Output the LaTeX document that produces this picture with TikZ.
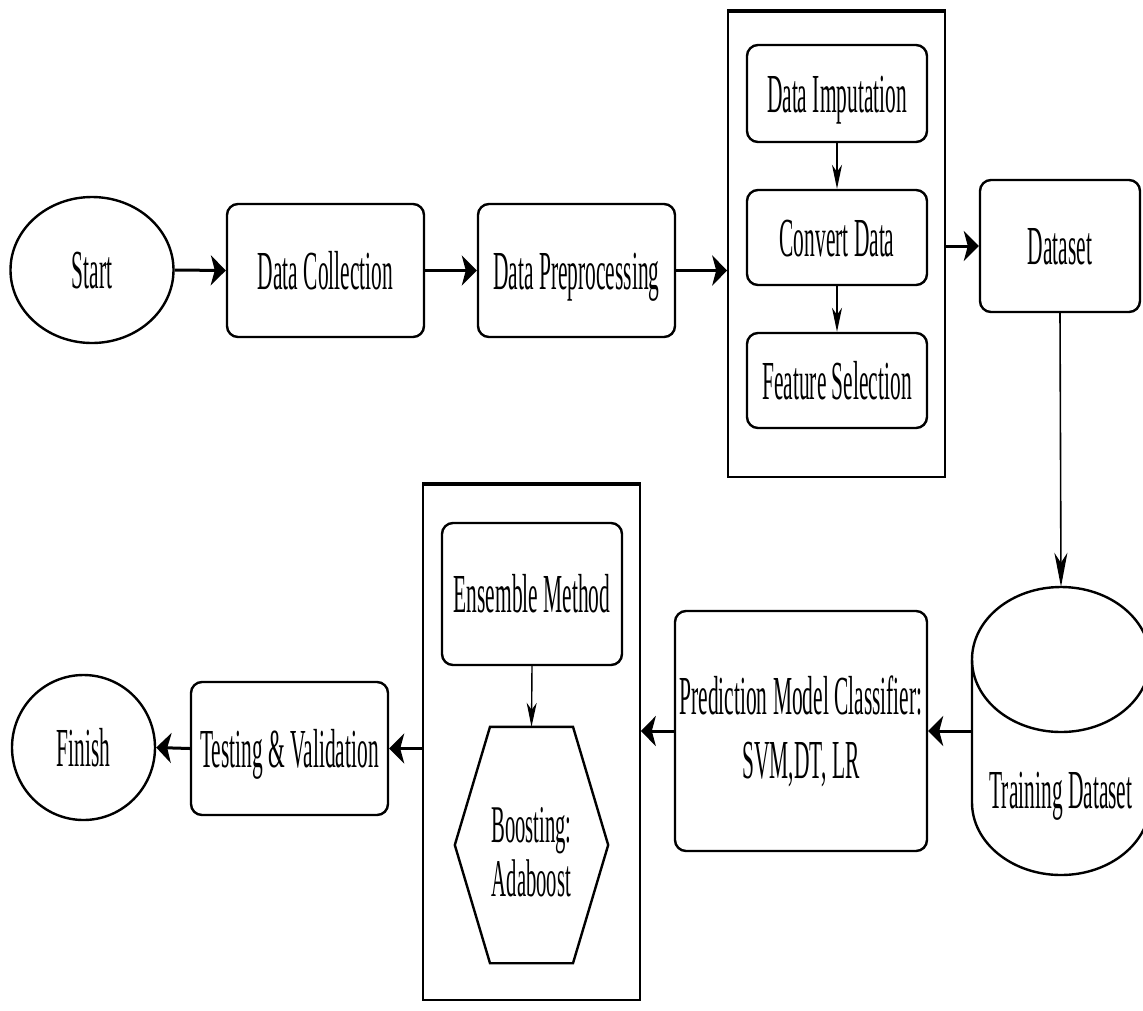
\documentclass[tikz,border=0pt]{standalone}
\usepackage{fontspec}
\newfontfamily\cond[FakeStretch=0.39]{Liberation Serif}
\usetikzlibrary{arrows.meta,shapes.geometric,calc}
\tikzset{
  txt/.style={font=\cond\fontsize{55}{64}\selectfont, inner sep=0pt, text height=37pt, text depth=0pt},
  proc/.style={txt, draw, line width=2.4pt, rounded corners=11pt},
  term/.style={txt, draw, ellipse, line width=2.4pt},
  grp/.style={draw, line width=1.6pt, inner sep=0pt},
  bigarrow/.style={line width=3pt, -{Stealth[length=15pt,width=30pt,inset=4pt]}},
  thinarrow/.style={line width=1.4pt, -{Stealth[length=24pt,width=10pt,inset=7pt]}},
  longarrow/.style={line width=1.6pt, -{Stealth[length=34pt,width=13pt,inset=10pt]}}
}
\begin{document}
\begin{tikzpicture}[x=1pt,y=-1pt]
\useasboundingbox (0,0) rectangle (1143,1010);
% top row
\node[term, minimum width=163pt, minimum height=146pt] (start) at (92,270) {Start};
\node[proc, minimum width=197pt, minimum height=133pt] (dc) at (325.5,270.5) {Data Collection};
\node[proc, minimum width=197pt, minimum height=133pt] (dp) at (576.5,270.5) {Data Preprocessing};
\node[grp, minimum width=217pt, minimum height=465pt] (g1) at (836.5,244.5) {};
\draw[line width=4.5pt] (g1.north west) -- (g1.north east);
\node[proc, minimum width=180pt, minimum height=97pt] (di) at (837,93.5) {Data Imputation};
\node[proc, minimum width=180pt, minimum height=95pt] (cd) at (837,237.5) {Convert Data};
\node[proc, minimum width=180pt, minimum height=95pt] (fs) at (837,380.5) {Feature Selection};
\node[proc, minimum width=160pt, minimum height=132pt] (ds) at (1060,246) {Dataset};
% training dataset cylinder
\node[inner sep=0pt, minimum width=178pt, minimum height=288pt] (td) at (1061,731) {};
\draw[line width=2.4pt] (1061,659.5) ellipse [x radius=89, y radius=72.5];
\draw[line width=2.4pt] (972,659.5) -- (972,802.5)
  .. controls (972,842.54) and (1011.85,875) .. (1061,875)
  .. controls (1110.15,875) and (1150,842.54) .. (1150,802.5) -- (1150,659.5);
\node[txt] at (1061,790) {Training Dataset};
% bottom row
\node[draw, line width=2.4pt, rounded corners=11pt, minimum width=252pt, minimum height=240pt, inner sep=0pt,
  align=center, font=\cond\fontsize{55}{64}\selectfont] (pred) at (801,731)
  {Prediction Model Classifier:\\SVM,DT, LR};
\node[grp, minimum width=217pt, minimum height=515pt] (g2) at (531.5,742.5) {};
\draw[line width=4.5pt] (g2.north west) -- (g2.north east);
\node[proc, minimum width=180pt, minimum height=142pt] (ens) at (532,594) {Ensemble Method};
\node[inner sep=0pt, minimum width=153pt, minimum height=236pt] (boost) at (531.5,845) {};
\draw[line width=2.4pt] ($(boost.north)+(-41.5,0)$) -- ($(boost.north)+(41.5,0)$) -- (boost.east)
  -- ($(boost.south)+(41.5,0)$) -- ($(boost.south)+(-41.5,0)$) -- (boost.west) -- cycle;
\node[align=center, inner sep=0pt, font=\cond\fontsize{53}{54}\selectfont] at (531.5,852) {Boosting:\\Adaboost};
\node[proc, minimum width=197pt, minimum height=133pt] (tv) at (289.5,748.5) {Testing \& Validation};
\node[term, minimum width=143pt, minimum height=145pt] (fin) at (83.5,747.5) {Finish};
% connectors
\draw[bigarrow] (start.east) -- (dc.west);
\draw[bigarrow] (dc.east) -- (dp.west);
\draw[bigarrow] (dp.east) -- (dp.east -| g1.west);
\draw[thinarrow] (di.south) -- (cd.north);
\draw[thinarrow] (cd.south) -- (fs.north);
\draw[bigarrow] (g1.east |- ds.west) -- (ds.west);
\draw[longarrow] (ds.south) -- (td.north);
\draw[bigarrow] (td.west) -- (td.west -| pred.east);
\draw[bigarrow] (pred.west) -- (pred.west -| g2.east);
\draw[thinarrow] (ens.south) -- (boost.north);
\draw[bigarrow] (g2.west |- tv.east) -- (tv.east);
\draw[bigarrow] (tv.west) -- (fin.east);
\end{tikzpicture}
\end{document}
